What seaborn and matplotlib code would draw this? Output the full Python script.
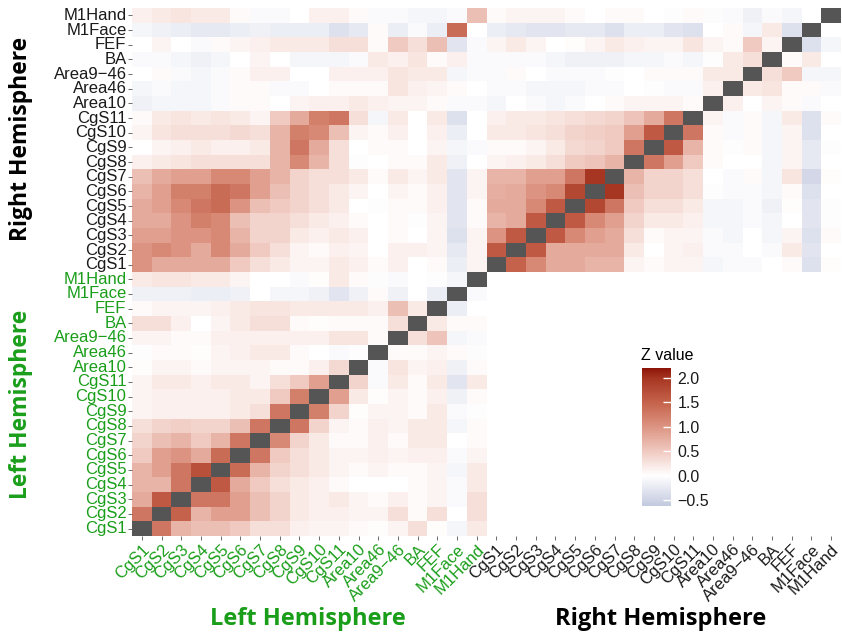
import numpy as np
import seaborn as sns
import matplotlib
from matplotlib import pyplot as plt
from matplotlib.colors import LinearSegmentedColormap, ListedColormap

matplotlib.use("Agg")

regions = ["CgS1", "CgS2", "CgS3", "CgS4", "CgS5", "CgS6", "CgS7", "CgS8", "CgS9",
           "CgS10", "CgS11", "Area10", "Area46", "Area9\u221246", "BA", "FEF",
           "M1Face", "M1Hand"]

# Z values, rows and columns in region order, None on the diagonal
left_left = [
    [None, 1.3, 0.7, 0.6, 0.6, 0.5, 0.3, 0.3, 0.15, 0.1, 0.1, 0.05, 0.02, 0.1, 0.3, 0.02, -0.1, 0.2],
    [1.3, None, 1.5, 0.7, 0.9, 0.9, 0.6, 0.4, 0.2, 0.15, 0.15, 0.1, 0.1, 0.3, 0.05, 0.3, 0.0, 0.3],
    [0.8, 1.6, None, 1.3, 1.3, 0.9, 0.6, 0.4, 0.2, 0.15, 0.2, 0.1, 0.05, 0.15, 0.05, 0.1, -0.05, 0.3],
    [0.7, 0.7, 1.3, None, 1.6, 0.8, 0.5, 0.3, 0.2, 0.15, 0.05, 0.0, 0.0, 0.0, 0.05, 0.1, -0.05, 0.2],
    [0.7, 0.9, 1.3, 1.7, None, 1.4, 0.7, 0.4, 0.3, 0.2, 0.1, 0.05, 0.1, 0.05, 0.05, 0.1, -0.1, 0.2],
    [0.5, 0.9, 1.0, 0.8, 1.4, None, 1.3, 0.5, 0.3, 0.2, 0.1, 0.1, 0.15, 0.1, 0.15, 0.15, -0.05, 0.1],
    [0.4, 0.6, 0.7, 0.5, 0.7, 1.3, None, 1.1, 0.4, 0.2, 0.05, 0.05, 0.15, 0.05, 0.2, 0.2, 0.0, 0.05],
    [0.3, 0.4, 0.45, 0.4, 0.4, 0.6, 1.3, None, 1.3, 0.4, 0.1, 0.05, 0.15, 0.1, 0.2, 0.2, -0.1, 0.05],
    [0.1, 0.15, 0.15, 0.15, 0.15, 0.2, 0.3, 1.3, None, 1.2, 0.4, 0.02, 0.1, 0.1, 0.05, 0.2, -0.05, -0.02],
    [0.1, 0.15, 0.15, 0.15, 0.15, 0.2, 0.2, 0.5, 1.2, None, 0.9, 0.2, 0.02, 0.1, 0.05, 0.15, -0.15, 0.05],
    [0.1, 0.2, 0.2, 0.15, 0.2, 0.2, 0.1, 0.3, 0.5, 0.9, None, 0.4, -0.05, 0.2, 0.05, 0.2, -0.3, 0.2],
    [0.02, 0.1, 0.1, 0.05, 0.1, 0.1, 0.1, 0.05, 0.05, 0.15, 0.35, None, -0.05, 0.25, 0.1, 0.15, -0.15, 0.05],
    [-0.02, 0.05, 0.05, 0.02, 0.1, 0.15, 0.2, 0.2, 0.05, 0.0, -0.05, -0.02, None, 0.05, 0.05, 0.1, 0.05, -0.03],
    [0.1, 0.1, 0.05, 0.05, 0.15, 0.15, 0.15, 0.15, 0.15, 0.15, 0.25, 0.25, 0.05, None, 0.3, 0.55, -0.1, -0.05],
    [0.3, 0.3, 0.15, 0.0, 0.1, 0.2, 0.3, 0.3, 0.05, 0.02, 0.05, 0.05, 0.05, 0.3, None, 0.2, 0.05, 0.05],
    [0.05, 0.1, 0.1, 0.1, 0.15, 0.2, 0.25, 0.25, 0.2, 0.2, 0.2, 0.2, 0.15, 0.6, 0.2, None, -0.2, 0.0],
    [-0.15, -0.15, -0.15, -0.2, -0.2, -0.15, 0.0, -0.1, -0.1, -0.15, -0.3, -0.15, 0.05, -0.15, 0.0, -0.2, None, -0.05],
    [0.2, 0.25, 0.25, 0.2, 0.2, 0.1, 0.0, 0.0, -0.05, 0.02, 0.2, 0.05, -0.03, -0.05, 0.0, -0.02, -0.1, None],
]

# rows: right hemisphere, columns: left hemisphere
right_left = [
    [1.0, 0.8, 0.8, 0.8, 0.8, 0.5, 0.3, 0.2, 0.1, 0.1, 0.2, 0.15, 0.05, 0.15, 0.0, 0.05, -0.2, 0.1],
    [1.0, 1.1, 1.0, 0.8, 1.1, 0.8, 0.5, 0.3, 0.1, 0.05, 0.15, 0.1, 0.0, 0.15, 0.15, 0.1, -0.25, 0.1],
    [0.9, 0.9, 1.0, 1.0, 1.1, 0.7, 0.4, 0.4, 0.2, 0.15, 0.2, 0.15, 0.0, 0.05, 0.0, 0.1, -0.35, 0.1],
    [0.8, 0.8, 1.0, 1.2, 1.1, 0.6, 0.4, 0.4, 0.3, 0.2, 0.15, 0.05, 0.0, 0.05, -0.02, 0.1, -0.3, 0.05],
    [0.8, 0.9, 1.1, 1.3, 1.4, 1.0, 0.6, 0.5, 0.4, 0.3, 0.2, 0.0, -0.02, 0.05, 0.05, 0.15, -0.3, 0.05],
    [0.7, 0.9, 1.2, 1.2, 1.4, 1.3, 0.9, 0.6, 0.4, 0.3, 0.2, 0.1, 0.0, 0.1, 0.05, 0.15, -0.3, 0.1],
    [0.6, 0.8, 0.9, 0.9, 1.1, 1.1, 0.9, 0.7, 0.4, 0.3, 0.3, 0.2, 0.05, 0.2, 0.1, 0.2, -0.3, 0.1],
    [0.15, 0.2, 0.25, 0.3, 0.3, 0.3, 0.3, 0.7, 1.1, 0.7, 0.3, -0.02, 0.0, 0.05, 0.05, 0.2, -0.15, 0.0],
    [0.0, 0.1, 0.15, 0.2, 0.15, 0.15, 0.2, 0.7, 1.3, 0.8, 0.3, 0.0, 0.05, 0.05, 0.0, 0.1, -0.1, -0.05],
    [0.1, 0.25, 0.3, 0.3, 0.3, 0.35, 0.3, 0.7, 1.2, 1.1, 0.6, 0.1, 0.05, 0.15, 0.0, 0.15, -0.2, 0.0],
    [0.05, 0.2, 0.25, 0.2, 0.25, 0.2, 0.1, 0.5, 0.8, 1.2, 1.3, 0.3, -0.1, 0.2, 0.0, 0.2, -0.35, 0.0],
    [-0.15, -0.1, -0.1, -0.1, -0.05, 0.05, 0.05, 0.0, 0.1, 0.15, 0.15, 0.2, 0.15, 0.1, 0.1, 0.05, -0.05, -0.05],
    [-0.1, -0.05, -0.1, -0.1, -0.05, 0.05, 0.05, -0.05, -0.05, 0.0, 0.05, 0.05, 0.05, 0.25, 0.15, 0.1, 0.05, 0.0],
    [0.0, 0.05, -0.05, -0.1, -0.05, 0.05, 0.15, 0.15, 0.0, 0.0, 0.15, 0.15, 0.15, 0.25, 0.2, 0.2, -0.1, -0.05],
    [-0.05, -0.05, -0.1, -0.15, -0.1, 0.0, 0.1, 0.0, -0.1, -0.1, -0.1, -0.05, 0.2, 0.15, 0.25, 0.05, 0.15, -0.05],
    [0.0, 0.1, 0.0, -0.05, 0.05, 0.1, 0.15, 0.2, 0.2, 0.2, 0.3, 0.3, 0.05, 0.5, 0.3, 0.6, -0.3, -0.05],
    [-0.1, -0.15, -0.2, -0.25, -0.25, -0.2, -0.15, -0.2, -0.2, -0.2, -0.35, -0.25, 0.05, -0.2, -0.05, -0.2, 1.4, 0.0],
    [0.15, 0.2, 0.25, 0.2, 0.2, 0.05, -0.05, -0.05, 0.0, 0.15, 0.15, 0.05, -0.05, -0.05, -0.1, -0.1, -0.05, 0.6],
]

right_right = [
    [None, 1.5, 1.1, 0.8, 0.8, 0.7, 0.7, 0.1, 0.05, 0.1, 0.1, -0.1, -0.05, -0.05, 0.0, 0.05, -0.35, 0.02],
    [1.6, None, 1.6, 0.8, 0.8, 0.8, 0.8, 0.2, 0.0, 0.1, 0.15, -0.05, -0.05, 0.0, -0.05, 0.2, -0.3, 0.0],
    [1.0, 1.6, None, 1.6, 1.1, 0.9, 0.8, 0.3, 0.05, 0.1, 0.1, -0.05, -0.1, 0.0, -0.1, 0.1, -0.35, 0.05],
    [0.7, 0.8, 1.6, None, 1.6, 1.1, 0.9, 0.4, 0.2, 0.2, 0.15, -0.1, -0.1, -0.05, -0.1, 0.0, -0.3, -0.02],
    [0.8, 0.8, 1.1, 1.6, None, 1.8, 1.3, 0.5, 0.3, 0.3, 0.2, -0.1, -0.1, -0.05, -0.15, 0.02, -0.3, -0.02],
    [0.75, 0.8, 1.0, 1.1, 1.8, None, 2.0, 0.6, 0.4, 0.4, 0.3, -0.02, -0.05, -0.05, -0.1, 0.05, -0.35, 0.0],
    [0.7, 0.7, 0.9, 0.9, 1.3, 2.0, None, 0.7, 0.4, 0.4, 0.3, 0.0, -0.05, 0.05, -0.1, 0.25, -0.45, 0.02],
    [0.1, 0.15, 0.2, 0.3, 0.5, 0.55, 0.7, None, 1.3, 0.9, 0.5, 0.05, 0.0, 0.0, -0.1, 0.1, -0.25, 0.0],
    [0.05, 0.05, 0.1, 0.2, 0.35, 0.4, 0.5, 1.3, None, 1.6, 0.7, 0.05, -0.02, 0.05, -0.1, 0.1, -0.25, -0.02],
    [0.2, 0.2, 0.25, 0.3, 0.4, 0.45, 0.5, 0.9, 1.6, None, 1.3, 0.05, -0.05, 0.05, -0.1, 0.1, -0.35, 0.0],
    [0.15, 0.2, 0.2, 0.25, 0.3, 0.35, 0.4, 0.55, 0.8, 1.3, None, 0.1, -0.05, 0.05, -0.1, 0.2, -0.35, 0.05],
    [-0.1, 0.0, -0.05, -0.1, -0.05, 0.0, 0.05, 0.1, 0.1, 0.1, 0.05, None, 0.15, 0.0, 0.1, 0.05, -0.05, 0.0],
    [-0.05, -0.05, -0.1, -0.1, -0.1, -0.05, -0.05, 0.0, -0.02, -0.05, -0.05, 0.15, None, 0.2, 0.25, 0.05, 0.05, -0.05],
    [-0.05, 0.05, 0.0, -0.05, -0.05, -0.05, -0.02, 0.0, 0.05, 0.05, 0.05, 0.2, 0.2, None, 0.3, 0.5, -0.1, -0.1],
    [-0.05, -0.05, -0.05, -0.1, -0.15, -0.15, -0.15, -0.1, -0.1, -0.05, -0.1, -0.02, 0.2, 0.3, None, 0.05, 0.2, 0.0],
    [0.1, 0.2, 0.1, 0.0, 0.02, 0.1, 0.2, 0.15, 0.1, 0.1, 0.25, 0.1, 0.05, 0.5, 0.1, None, -0.35, -0.1],
    [-0.2, -0.25, -0.3, -0.3, -0.25, -0.25, -0.35, -0.2, -0.2, -0.3, -0.35, 0.0, 0.05, -0.1, 0.2, -0.35, None, 0.0],
    [0.05, 0.1, 0.1, 0.1, 0.05, 0.0, 0.05, 0.05, 0.0, -0.02, 0.05, -0.03, -0.05, -0.15, -0.05, -0.1, 0.0, None],
]

z_ticks = [-0.5, 0.0, 0.5, 1.0, 1.5, 2.0]

GREEN = "#1a9e1a"
TEXT = "#1a1a1a"
Z_MIN, Z_MAX = -0.62, 2.2


def build_matrix():
    n = len(regions)
    z = np.full((2 * n, 2 * n), np.nan)
    z[:n, :n] = np.array(left_left, dtype=float)
    z[n:, :n] = np.array(right_left, dtype=float)
    z[n:, n:] = np.array(right_right, dtype=float)
    diag = np.where(np.eye(2 * n) == 1, 1.0, np.nan)
    # heatmap puts row 0 at the top, the figure has the left CgS1 at the bottom
    return z[::-1], diag[::-1]


def z_cmap():
    span = Z_MAX - Z_MIN
    stops = [
        (-0.62, "#c3c9df"),
        (0.0, "#ffffff"),
        (0.5, "#f0c9c0"),
        (1.0, "#dc9482"),
        (1.5, "#c5624b"),
        (2.0, "#a63522"),
        (2.2, "#8c1408"),
    ]
    return LinearSegmentedColormap.from_list(
        "zvalue", [((v - Z_MIN) / span, c) for v, c in stops]
    )


def main():
    plt.rcParams["font.family"] = ["Liberation Sans", "DejaVu Sans"]
    z, diag = build_matrix()
    n = len(regions)
    xlabels = regions + regions
    ylabels = (regions + regions)[::-1]

    fig = plt.figure(figsize=(8.42, 6.37), dpi=100)
    ax = fig.add_axes([0.1568, 0.1586, 0.8420, 0.8288])
    cax = fig.add_axes([0.7625, 0.2057, 0.0340, 0.2166])

    sns.heatmap(
        z,
        ax=ax,
        cmap=z_cmap(),
        vmin=Z_MIN,
        vmax=Z_MAX,
        cbar_ax=cax,
        xticklabels=xlabels,
        yticklabels=ylabels,
    )
    sns.heatmap(
        diag,
        ax=ax,
        cmap=ListedColormap(["#555555"]),
        cbar=False,
        xticklabels=xlabels,
        yticklabels=ylabels,
    )

    ax.tick_params(length=3, width=0.6, color="#555555", pad=1, labelsize=12)
    ax.set_xticklabels(xlabels, rotation=45, ha="right", rotation_mode="anchor")
    ax.set_yticklabels(ylabels, rotation=0, va="center")
    for i, lab in enumerate(ax.get_xticklabels()):
        lab.set_color(GREEN if i < n else TEXT)
    for i, lab in enumerate(ax.get_yticklabels()):
        lab.set_color(TEXT if i < n else GREEN)

    # colour bar
    cbar = ax.collections[0].colorbar
    cbar.outline.set_visible(False)
    cbar.set_ticks(z_ticks)
    cbar.set_ticklabels([f"{t:.1f}".replace("-", "\u2212") for t in z_ticks])
    cax.tick_params(direction="in", color="white", length=6, width=1,
                    labelsize=11.5, labelcolor=TEXT, pad=5)
    cax.set_title("Z value", fontsize=11.5, loc="left", pad=6, x=-0.05)

    # hemisphere labels
    bold = dict(family=["Open Sans", "DejaVu Sans"], fontweight="bold")
    fig.text(0.366, 0.029, "Left Hemisphere", color=GREEN, ha="center",
             va="center", fontsize=17, **bold)
    fig.text(0.785, 0.029, "Right Hemisphere", color="black", ha="center",
             va="center", fontsize=17, **bold)
    fig.text(0.025, 0.782, "Right Hemisphere", color="black", rotation=90,
             ha="center", va="center", fontsize=16.5, **bold)
    fig.text(0.025, 0.365, "Left Hemisphere", color=GREEN, rotation=90,
             ha="center", va="center", fontsize=16.5, **bold)

    fig.savefig("out.png", dpi=100)


if __name__ == "__main__":
    main()
